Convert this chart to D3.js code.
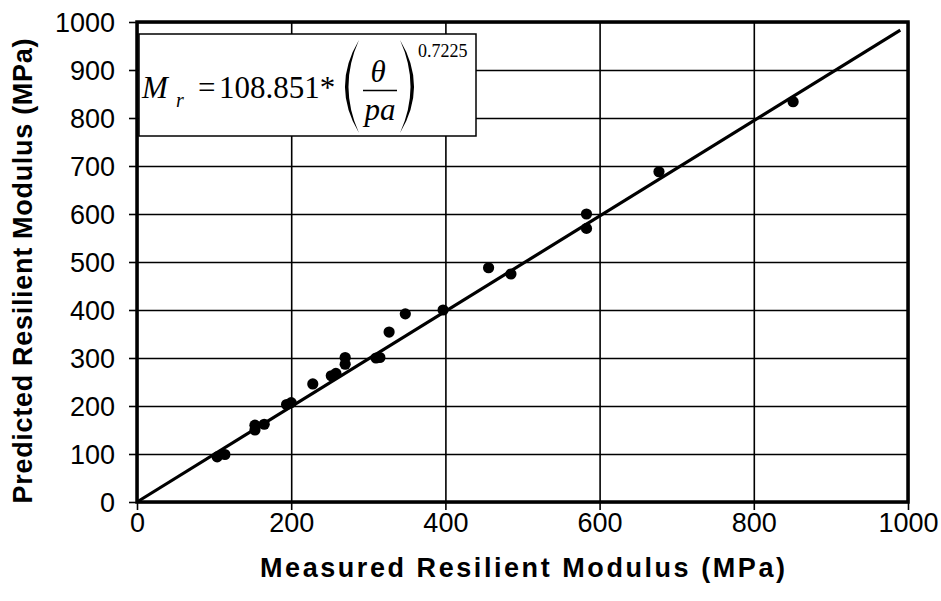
<!DOCTYPE html>
<html lang="en">
<head>
  <meta charset="utf-8">
  <script src="https://d3js.org/d3.v7.min.js"></script>
  <style>
    body { margin: 0; background: #fff; }
    text { font-family: "Liberation Sans", Arial, sans-serif; }
    .eq text { font-family: "Liberation Serif", "Times New Roman", serif; }
  </style>
</head>
<body>
  <svg id="chart" width="941" height="601"></svg>

  <script>
    // measured vs predicted resilient modulus (MPa)
    const measured  = [104, 114, 153, 153, 165, 194, 200, 228, 252, 258, 270, 270, 310, 315, 327, 348, 397, 456, 485, 583, 583, 677, 851];
    const predicted = [ 94,  99, 150, 160, 162, 203, 207, 246, 263, 268, 287, 301, 300, 301, 354, 392, 400, 488, 475, 570, 600, 688, 834];
    // fitted line end points
    const fitX = [0, 990];
    const fitY = [0, 983];
    const ticks = [0, 200, 400, 600, 800, 1000];
    const yTicks = [0, 100, 200, 300, 400, 500, 600, 700, 800, 900, 1000];

    const svg = d3.select("#chart");
    const pL = 137, pR = 908, pT = 22, pB = 502;

    const x = d3.scaleLinear().domain([0, 1000]).range([pL, pR]);
    const y = d3.scaleLinear().domain([0, 1000]).range([pB, pT]);

    // grid
    svg.append("g")
      .attr("transform", `translate(0,${pB})`)
      .call(d3.axisBottom(x).tickValues(ticks).tickSize(-(pB - pT)).tickFormat(""))
      .call(g => g.select(".domain").remove())
      .selectAll("line").attr("stroke", "#000").attr("stroke-width", 1.6);
    svg.append("g")
      .attr("transform", `translate(${pL},0)`)
      .call(d3.axisLeft(y).tickValues(yTicks).tickSize(-(pR - pL)).tickFormat(""))
      .call(g => g.select(".domain").remove())
      .selectAll("line").attr("stroke", "#000").attr("stroke-width", 1.6);

    // outer ticks + labels
    const xa = svg.append("g")
      .attr("transform", `translate(0,${pB})`)
      .call(d3.axisBottom(x).tickValues(ticks).tickFormat(d3.format("d")).tickSize(8).tickPadding(3));
    const ya = svg.append("g")
      .attr("transform", `translate(${pL},0)`)
      .call(d3.axisLeft(y).tickValues(yTicks).tickFormat(d3.format("d")).tickSize(8).tickPadding(14));
    [xa, ya].forEach(a => {
      a.select(".domain").remove();
      a.selectAll("line").attr("stroke", "#000").attr("stroke-width", 1.6);
      a.selectAll("text").attr("fill", "#000").attr("font-size", 27)
        .attr("font-family", "Liberation Sans, Arial, sans-serif");
    });
    ya.selectAll("text").attr("dy", "0.36em");

    // fitted line
    svg.append("line")
      .attr("x1", x(fitX[0])).attr("y1", y(fitY[0]))
      .attr("x2", x(fitX[1])).attr("y2", y(fitY[1]))
      .attr("stroke", "#000").attr("stroke-width", 3.2);

    // points
    svg.append("g")
      .selectAll("circle")
      .data(measured)
      .join("circle")
      .attr("cx", d => x(d))
      .attr("cy", (d, i) => y(predicted[i]))
      .attr("r", 5.6)
      .attr("fill", "#000");

    // border
    svg.append("rect")
      .attr("x", pL).attr("y", pT)
      .attr("width", pR - pL).attr("height", pB - pT)
      .attr("fill", "none").attr("stroke", "#000").attr("stroke-width", 3.5);

    // equation box
    const eq = svg.append("g").attr("class", "eq");
    eq.append("rect")
      .attr("x", 139).attr("y", 34).attr("width", 337).attr("height", 102)
      .attr("fill", "#fff").attr("stroke", "#000").attr("stroke-width", 1.5);
    eq.append("text").attr("x", 142).attr("y", 98).attr("font-size", 31)
      .attr("font-style", "italic").text("M");
    eq.append("text").attr("x", 176).attr("y", 107).attr("font-size", 20)
      .attr("font-style", "italic").text("r");
    eq.append("text").attr("x", 198).attr("y", 98).attr("font-size", 31).text("=");
    eq.append("text").attr("x", 219).attr("y", 98).attr("font-size", 31).text("108.851*");
    eq.append("path")
      .attr("d", "M359,40 Q331,86.5 359,133 Q338,86.5 359,40 Z").attr("fill", "#000");
    eq.append("path")
      .attr("d", "M400,40 Q428,86.5 400,133 Q421,86.5 400,40 Z").attr("fill", "#000");
    eq.append("text").attr("x", 378).attr("y", 82).attr("font-size", 31)
      .attr("font-style", "italic").attr("text-anchor", "middle").text("θ");
    eq.append("line").attr("x1", 363).attr("x2", 397).attr("y1", 90.5).attr("y2", 90.5)
      .attr("stroke", "#000").attr("stroke-width", 1.5);
    eq.append("text").attr("x", 380).attr("y", 120).attr("font-size", 31)
      .attr("font-style", "italic").attr("text-anchor", "middle").text("pa");
    eq.append("text").attr("x", 418).attr("y", 57).attr("font-size", 18).text("0.7225");

    // titles
    svg.append("text")
      .attr("x", (pL + pR) / 2).attr("y", 577)
      .attr("text-anchor", "middle").attr("font-size", 27).attr("font-weight", "bold")
      .attr("textLength", 525)
      .text("Measured Resilient Modulus (MPa)");
    svg.append("text")
      .attr("transform", `translate(32,271) rotate(-90)`)
      .attr("text-anchor", "middle").attr("font-size", 27).attr("font-weight", "bold")
      .attr("textLength", 465)
      .text("Predicted Resilient Modulus (MPa)");
  </script>
</body>
</html>
